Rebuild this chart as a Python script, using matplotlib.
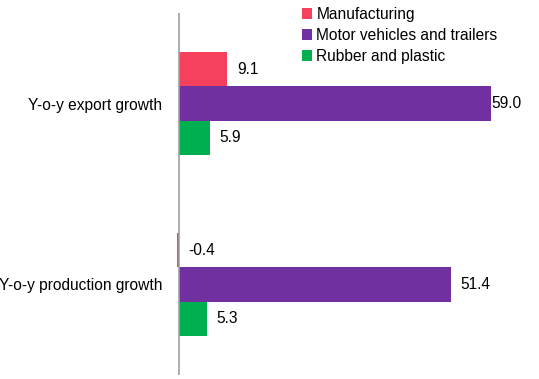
import matplotlib.pyplot as plt
import numpy as np

plt.rcParams['font.family'] = ['Liberation Sans', 'DejaVu Sans']

categories = ['Y-o-y export growth', 'Y-o-y production growth']
series = ['Manufacturing', 'Motor vehicles and trailers', 'Rubber and plastic']
manufacturing = [9.1, -0.4]
motor_vehicles = [59.0, 51.4]
rubber_plastic = [5.9, 5.3]
colors = ['#F5405E', '#7030A0', '#00B050']

values = [manufacturing, motor_vehicles, rubber_plastic]

fig = plt.figure(figsize=(5.39, 3.79), dpi=100)
ax = fig.add_axes([0.327, 0.0106, 0.584, 0.955])

y = np.arange(len(categories))
h = 0.19
xmax = 59.0
fs = 11.2
for i, (name, vals, c) in enumerate(zip(series, values, colors)):
    pos = y + (i - 1) * h
    ax.barh(pos, vals, height=h, color=c, label=name)
    for p, v in zip(pos, vals):
        x = min(max(v, 0), xmax)
        off = 0 if v >= xmax else 7
        ax.annotate(f'{v:.1f}', (x, p), xytext=(off, 0), textcoords='offset points',
                    va='center', ha='left', fontsize=fs, annotation_clip=False)

ax.set_xlim(-0.5, xmax)
ax.set_ylim(1.5, -0.5)
ax.axvline(0, color='#A0A0A0', lw=1.2)
for s in ax.spines.values():
    s.set_visible(False)
ax.set_xticks([])
ax.set_yticks(y)
ax.set_yticklabels(categories, fontsize=fs)
ax.tick_params(axis='y', length=0, pad=10)

fig.legend(loc='upper left', bbox_to_anchor=(0.548, 0.998), frameon=False,
           fontsize=fs, handlelength=0.65, handleheight=0.65, handletextpad=0.3,
           labelspacing=0.38, borderaxespad=0)

fig.savefig('out.png', dpi=100)
